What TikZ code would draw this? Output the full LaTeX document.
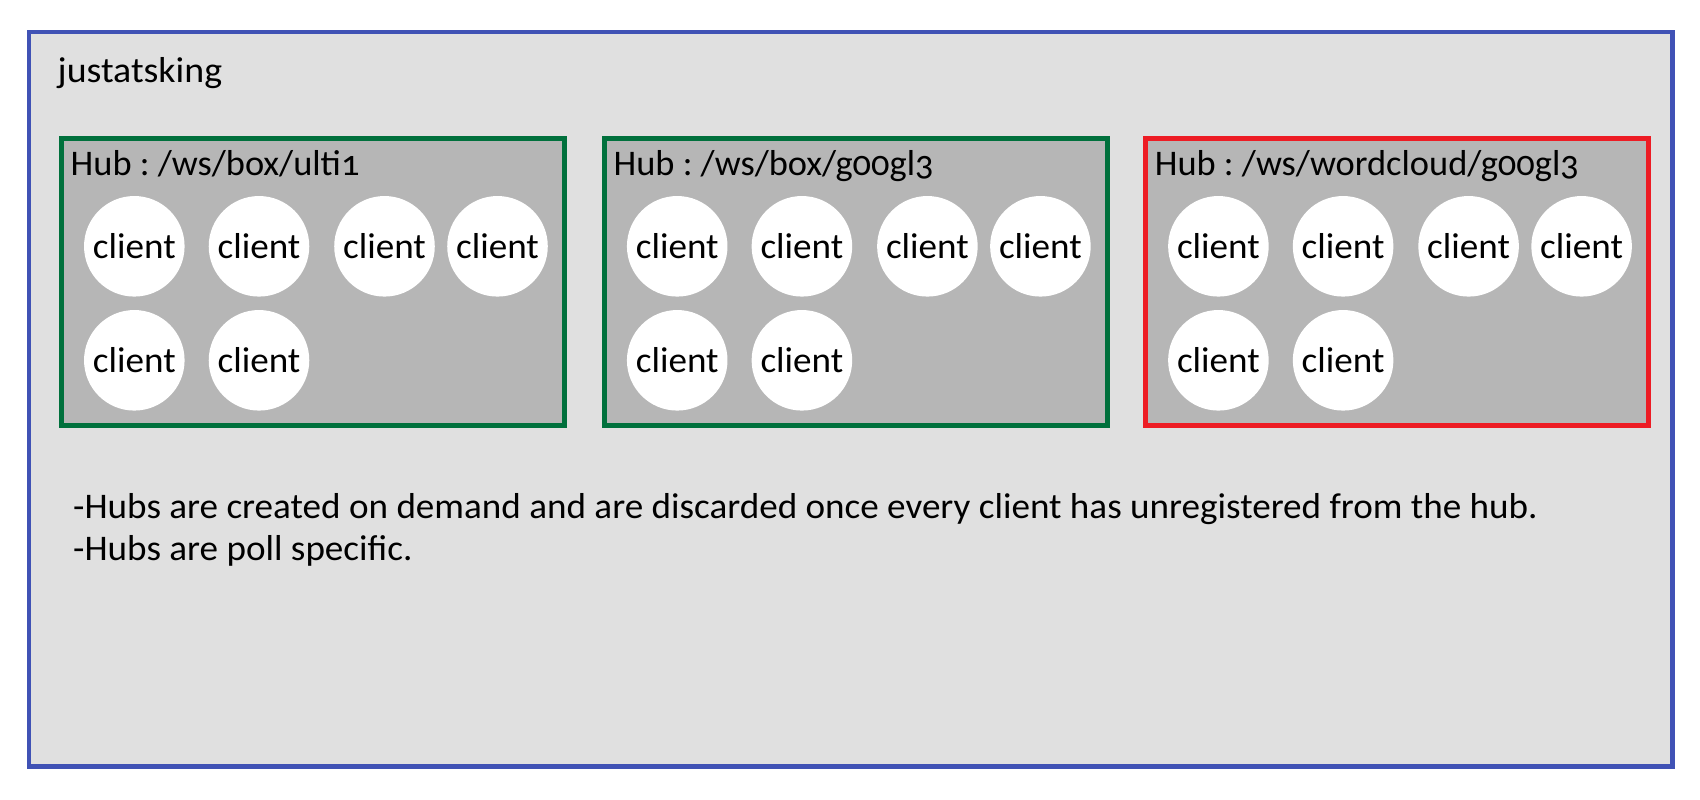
\documentclass[tikz,border=0pt]{standalone}
\usepackage{fontspec}
\setmainfont{Carlito}[Numbers=OldStyle, FakeStretch=1.03]
\newfontfamily\titlefont{Carlito}[Numbers=OldStyle, FakeStretch=1.05]
\newfontfamily\hubfont{Carlito}[Numbers=OldStyle, FakeStretch=1.01]
\frenchspacing

\definecolor{roomblue}{HTML}{4052B5}
\definecolor{roomgray}{HTML}{E0E0E0}
\definecolor{hubgray}{HTML}{B6B6B6}
\definecolor{hubgreen}{HTML}{00703C}
\definecolor{hubred}{HTML}{ED1C24}

\tikzset{
	room/.style={draw=roomblue, line width=1.28pt, fill=roomgray},
	hub/.style={rectangle, line width=1.34pt, fill=hubgray, minimum width=5.027cm, minimum height=2.872cm, inner sep=0pt, outer sep=0pt},
	client/.style={circle, fill=white, minimum size=1.005cm, inner sep=0pt},
	label/.style={anchor=base west, inner sep=0pt},
	hublabel/.style={label, font=\fontsize{10.25pt}{12pt}\hubfont},
}

\begin{document}
\begin{tikzpicture}[x=0.01cm, y=-0.01cm, font=\fontsize{10.25pt}{12pt}\selectfont]
	\useasboundingbox (0,0) rectangle (1700,800);
	\draw[room] (28.9,32.2) rectangle (1672.5,766.5);
	\node[label, font=\fontsize{10.25pt}{12pt}\titlefont] (room) at (57,82.7) {justatsking};

	% hubs
	\node[hub, draw=hubgreen] (ulti) at (313,281.9) {};
	\node[hub, draw=hubgreen] (box) at (855.9,281.9) {};
	\node[hub, draw=hubred] (wordcloud) at (1397.1,281.9) {};
	\node[hublabel] (ultiname) at ([xshift=0.085cm]ulti.west |- 0,175) {Hub : /ws/box/ulti1};
	\node[hublabel] (boxname) at ([xshift=0.085cm]box.west |- 0,175) {Hub : /ws/box/g00gl3};
	\node[hublabel] (wordcloudname) at ([xshift=0.085cm]wordcloud.west |- 0,175) {Hub : /ws/wordcloud/g00gl3};

	% clients
	\foreach \h in {ulti,box,wordcloud}{
		\foreach \i/\dx/\y in {1/72.8/246.3, 2/197.5/246.3, 3/323/246.3, 4/436/246.3, 5/72.8/360.3, 6/197.5/360.3}{
			\node[client] (\h-\i) at ([xshift=\dx*0.01cm]\h.west |- 0,\y) {client};
		}
	}

	\node[label] (note1) at (72.5,518.3) {-Hubs are created on demand and are discarded once every client has unregistered from the hub.};
	\node[label] (note2) at (72.5,560) {-Hubs are poll specific.};
\end{tikzpicture}
\end{document}
